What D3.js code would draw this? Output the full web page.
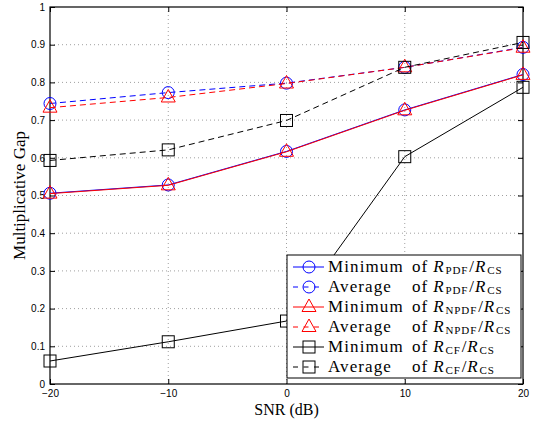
<!DOCTYPE html>
<html>
<head>
<meta charset="utf-8">
<script src="https://cdn.jsdelivr.net/npm/d3@7"></script>
<style>
  body { margin: 0; background: #fff; }
  svg { display: block; }
  .sans { font-family: "Liberation Sans", "DejaVu Sans", Arial, sans-serif; }
  .serif { font-family: "Liberation Serif", "DejaVu Serif", serif; }
</style>
</head>
<body>
<svg id="chart"></svg>
<script>
// values
var snr = [-20, -10, 0, 10, 20];
var minPdf  = [0.506, 0.528, 0.617, 0.727, 0.821];
var avgPdf  = [0.744, 0.773, 0.798, 0.840, 0.893];
var minNpdf = [0.505, 0.527, 0.616, 0.726, 0.820];
var avgNpdf = [0.733, 0.760, 0.797, 0.840, 0.892];
var minCf   = [0.061, 0.112, 0.167, 0.603, 0.787];
var avgCf   = [0.593, 0.621, 0.699, 0.840, 0.906];
var xTicks = [-20, -10, 0, 10, 20];
var yTicks = [0, 0.1, 0.2, 0.3, 0.4, 0.5, 0.6, 0.7, 0.8, 0.9, 1];
var legendPrefix = ["Minimum", "Average", "Minimum", "Average", "Minimum", "Average"];
var legendSub = ["PDF", "PDF", "NPDF", "NPDF", "CF", "CF"];

var W = 534, H = 422,
  M = {left: 50, right: 11, top: 7, bottom: 38},
  pw = W - M.left - M.right,
  ph = H - M.top - M.bottom;

var series = [
  {vals: minPdf,  color: "#0000ff", dash: null,  mark: "circle"},
  {vals: avgPdf,  color: "#0000ff", dash: "6,4", mark: "circle"},
  {vals: minNpdf, color: "#ff0000", dash: null,  mark: "triangle"},
  {vals: avgNpdf, color: "#ff0000", dash: "6,4", mark: "triangle"},
  {vals: minCf,   color: "#000000", dash: null,  mark: "square"},
  {vals: avgCf,   color: "#000000", dash: "6,4", mark: "square"}
];

var svg = d3.select("#chart").attr("width", W).attr("height", H);
var g = svg.append("g").attr("transform", "translate(" + M.left + "," + M.top + ")");

var x = d3.scaleLinear().domain([-20, 20]).range([0, pw]);
var y = d3.scaleLinear().domain([0, 1]).range([ph, 0]);

//Grid
g.append("g").selectAll("line")
  .data(xTicks.slice(1, -1))
  .enter().append("line")
  .attr("x1", function (d) { return x(d) }).attr("x2", function (d) { return x(d) })
  .attr("y1", 0).attr("y2", ph)
  .attr("stroke", "#888").attr("stroke-width", 0.8).attr("stroke-dasharray", "1,3");
g.append("g").selectAll("line")
  .data(yTicks.slice(1, -1))
  .enter().append("line")
  .attr("y1", function (d) { return y(d) }).attr("y2", function (d) { return y(d) })
  .attr("x1", 0).attr("x2", pw)
  .attr("stroke", "#888").attr("stroke-width", 0.8).attr("stroke-dasharray", "1,3");

//Axes (ticks inward, mirrored)
var fmtX = function (d) { return d < 0 ? "\u2212" + Math.abs(d) : d };
var fmtY = function (d) { return d === 0 || d === 1 ? d : d3.format(".1f")(d) };
var axB = g.append("g").attr("transform", "translate(0," + ph + ")")
  .call(d3.axisBottom(x).tickValues(xTicks).tickSize(-5).tickPadding(6).tickFormat(fmtX));
var axT = g.append("g")
  .call(d3.axisTop(x).tickValues(xTicks).tickSize(-5).tickFormat(""));
var axL = g.append("g")
  .call(d3.axisLeft(y).tickValues(yTicks).tickSize(-5).tickPadding(5).tickFormat(fmtY));
var axR = g.append("g").attr("transform", "translate(" + pw + ",0)")
  .call(d3.axisRight(y).tickValues(yTicks).tickSize(-5).tickFormat(""));
[axB, axT, axL, axR].forEach(function (a) {
  a.attr("font-family", null);
  a.select(".domain").remove();
  a.selectAll("line").attr("stroke", "#000").attr("stroke-width", 1);
  a.selectAll("text").attr("class", "sans")
    .attr("font-size", "10px").attr("fill", "#000");
});
g.append("rect").attr("width", pw).attr("height", ph)
  .attr("fill", "none").attr("stroke", "#000").attr("stroke-width", 1.2);

//Markers
var drawMark = function (sel, type, color) {
  if (type === "circle") {
    sel.append("circle").attr("r", 6);
  } else if (type === "triangle") {
    sel.append("path").attr("d", "M0,-8L7,4.5L-7,4.5Z");
  } else {
    sel.append("rect").attr("x", -6).attr("y", -6).attr("width", 12).attr("height", 12);
  }
  sel.selectAll("*").attr("fill", "none").attr("stroke", color).attr("stroke-width", 1);
};

var line = d3.line()
  .x(function (d, i) { return x(snr[i]) })
  .y(function (d) { return y(d) });

series.forEach(function (s) {
  g.append("path").datum(s.vals)
    .attr("d", line)
    .attr("fill", "none")
    .attr("stroke", s.color)
    .attr("stroke-width", 1)
    .attr("stroke-dasharray", s.dash);
  g.append("g").selectAll("g")
    .data(s.vals)
    .enter().append("g")
    .attr("transform", function (d, i) { return "translate(" + x(snr[i]) + "," + y(d) + ")" })
    .each(function () { drawMark(d3.select(this), s.mark, s.color) });
});

//Axis labels
svg.append("text")
  .attr("class", "serif")
  .attr("x", M.left + x(0)).attr("y", 415)
  .attr("text-anchor", "middle")
  .attr("font-size", "16px")
  .text("SNR (dB)");
svg.append("text")
  .attr("class", "serif")
  .attr("transform", "translate(25," + (M.top + ph / 2) + ") rotate(-90)")
  .attr("text-anchor", "middle")
  .attr("font-size", "17px")
  .text("Multiplicative Gap");

//Legend
var lg = svg.append("g").attr("transform", "translate(287,255)");
lg.append("rect").attr("width", 234).attr("height", 123)
  .attr("fill", "#fff").attr("stroke", "#000").attr("stroke-width", 1);
series.forEach(function (s, i) {
  var row = lg.append("g").attr("transform", "translate(0," + (12 + i * 20) + ")");
  row.append("line").attr("x1", 6).attr("x2", 37).attr("y1", 0).attr("y2", 0)
    .attr("stroke", s.color).attr("stroke-width", 1)
    .attr("stroke-dasharray", s.dash ? "5,5.5" : null);
  var mk = row.append("g").attr("transform", "translate(22,0)");
  drawMark(mk, s.mark, s.color);
  row.append("text").attr("class", "serif").attr("x", 41).attr("y", 4.5)
    .attr("font-size", "17px").attr("letter-spacing", "1.1px")
    .text(legendPrefix[i]);
  var t = row.append("text").attr("class", "serif").attr("x", 125).attr("y", 4.5)
    .attr("font-size", "17px").attr("letter-spacing", "0.9px");
  t.append("tspan").text("of ");
  t.append("tspan").attr("font-style", "italic").text("R");
  t.append("tspan").attr("font-size", "11px").attr("dx", 1).attr("dy", 2).text(legendSub[i]);
  t.append("tspan").attr("dx", 1).attr("dy", -2).text("/");
  t.append("tspan").attr("font-style", "italic").text("R");
  t.append("tspan").attr("font-size", "11px").attr("dx", 1).attr("dy", 2).text("CS");
});
</script>
</body>
</html>
